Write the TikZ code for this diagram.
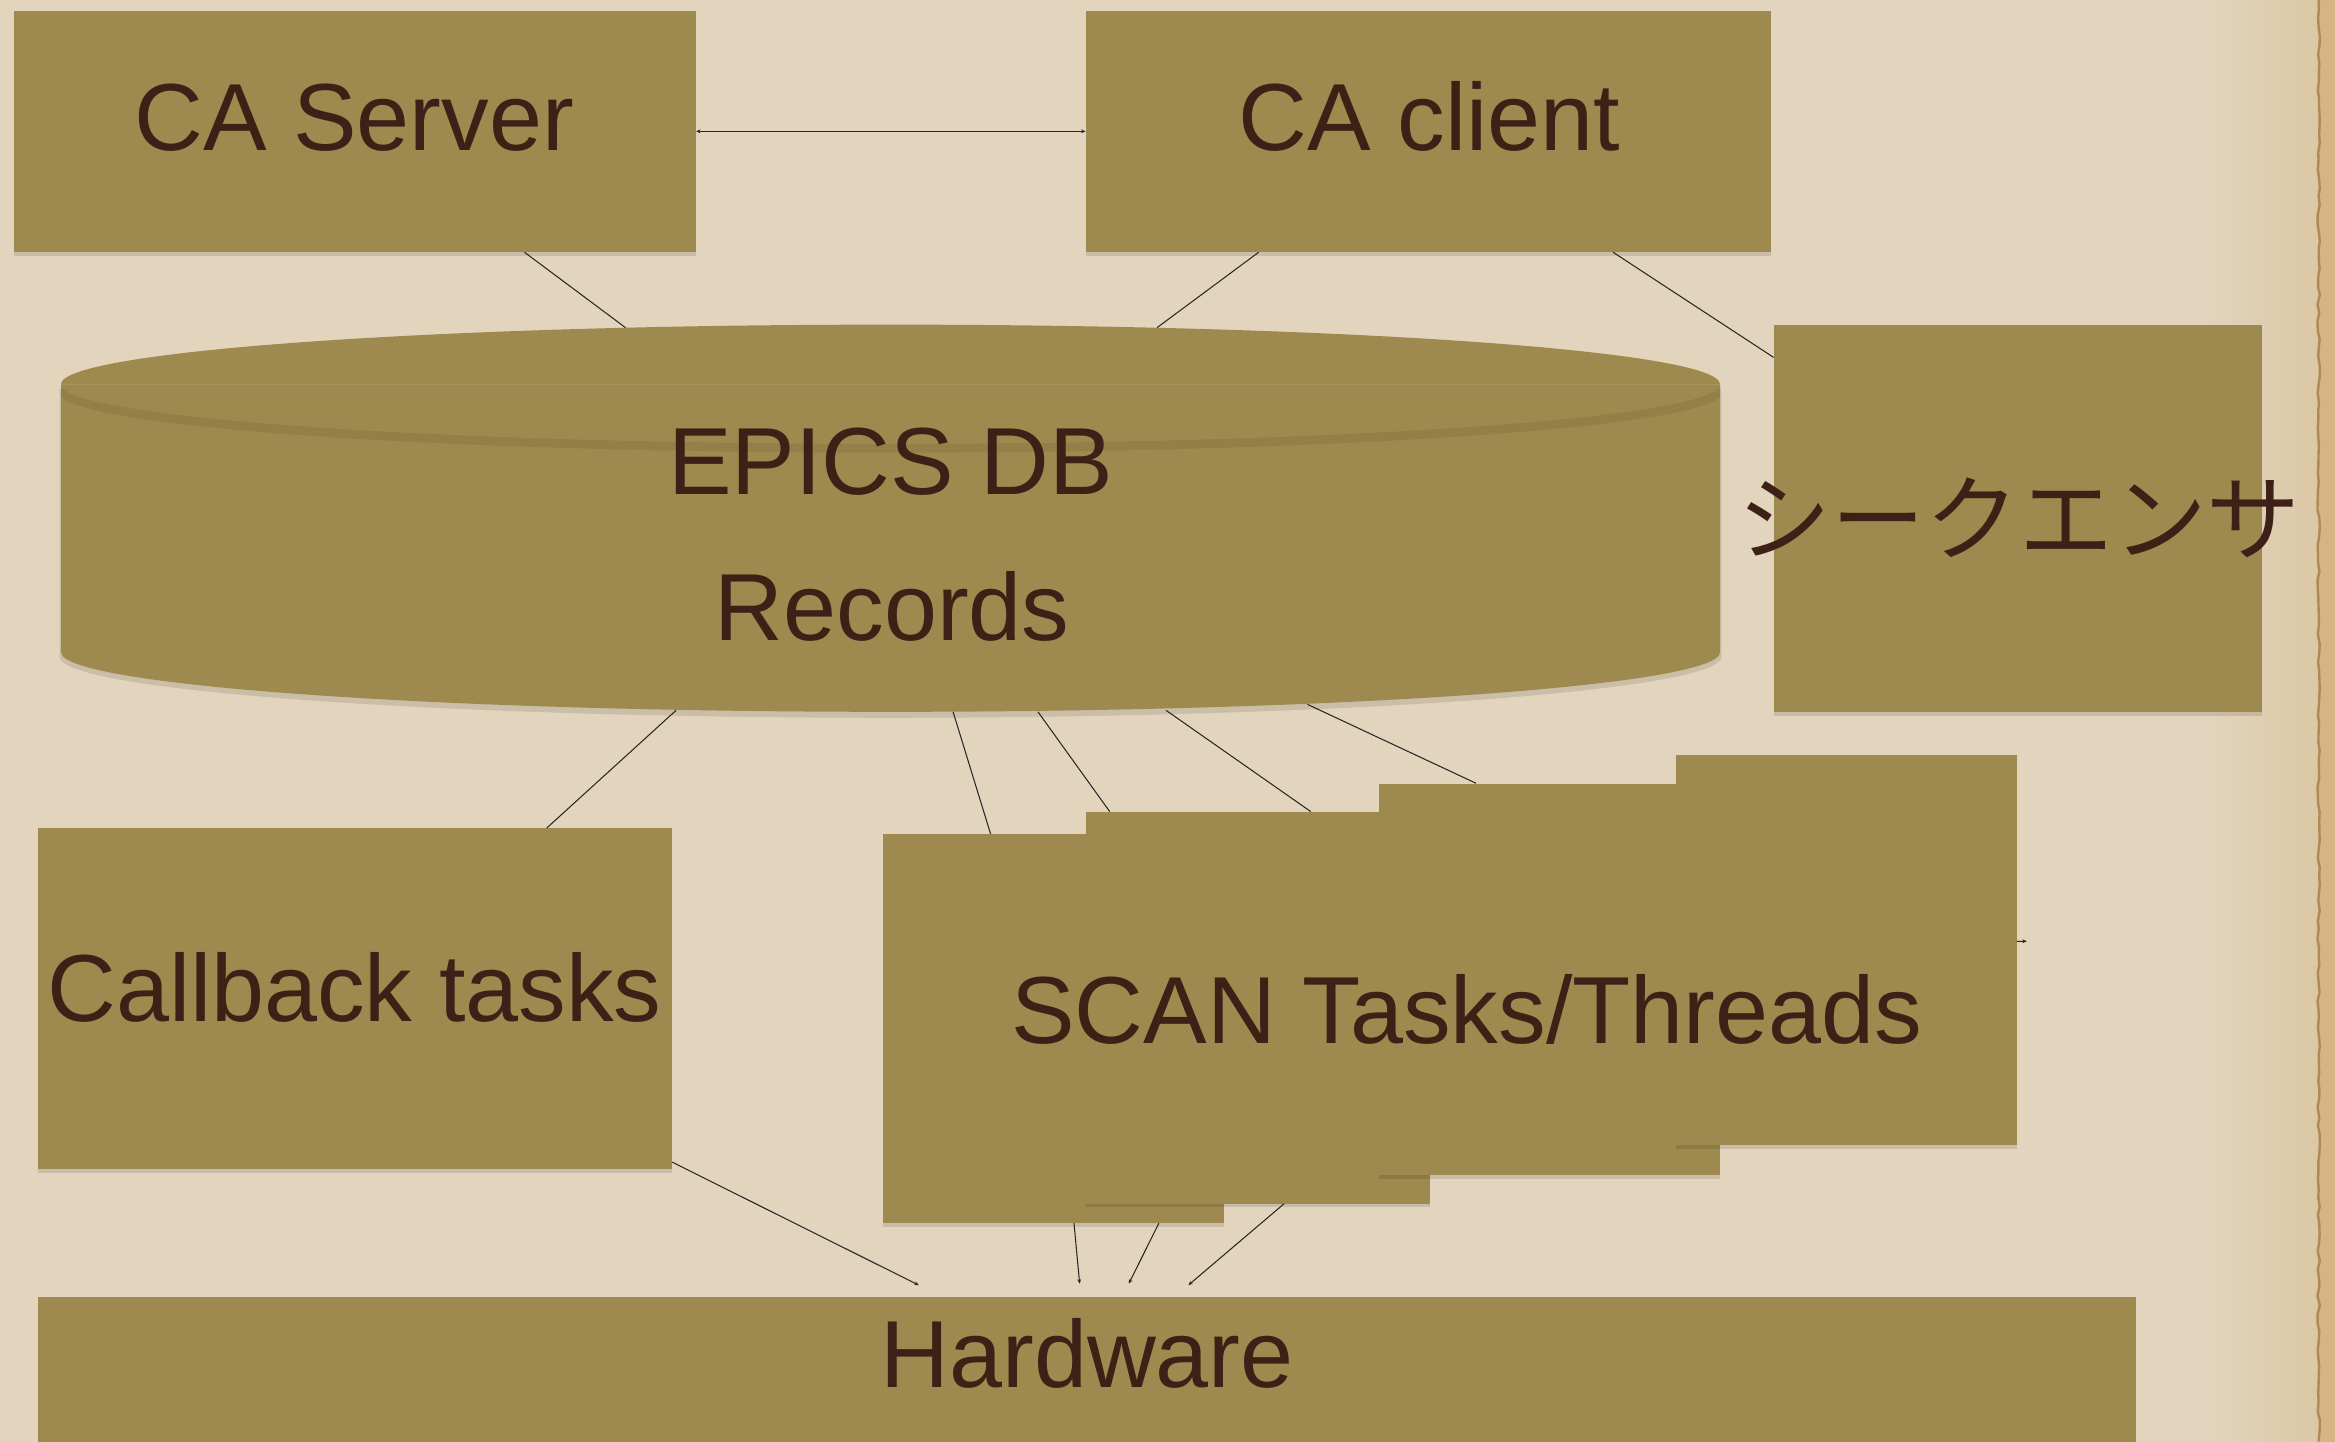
\documentclass[tikz,border=0pt]{standalone}
\usepackage{fontspec}
\setmainfont{Liberation Sans}
\newfontfamily\jpfont{Noto Sans CJK JP}
\usetikzlibrary{arrows.meta,shadows,decorations.pathmorphing}
\definecolor{paper}{HTML}{E2D4BD}
\definecolor{paperdark}{HTML}{DCC8A6}
\definecolor{boxfill}{HTML}{9E8A4E}
\definecolor{ink}{HTML}{3D2117}
\definecolor{edgetan}{HTML}{D5B583}
\definecolor{edgeline}{HTML}{B08A52}
\begin{document}
\begin{tikzpicture}[x=1pt,y=-1pt,
  box/.style={fill=boxfill, draw=none, inner sep=0pt, anchor=north west,
    drop shadow={shadow xshift=0pt, shadow yshift=-2.5pt, opacity=0.11, fill=black}},
  lbl/.style={text=ink, font=\fontsize{64}{70}\selectfont, inner sep=0pt, anchor=base},
  conn/.style={draw=black!85, line width=0.7pt},
  tipend/.style={-{Stealth[length=3pt,width=2.5pt]}},
  tipboth/.style={{Stealth[length=3pt,width=2.5pt]}-{Stealth[length=3pt,width=2.5pt]}}]

\useasboundingbox (0,0) rectangle (1568,968);
\fill[paper] (0,0) rectangle (1568,968);
\shade[left color=paper, right color=paperdark] (1480,0) rectangle (1557,968);
\fill[edgetan] (1557,0) rectangle (1568,968);
\pgfmathsetseed{7}
\draw[edgeline, line width=1.6pt, decorate, decoration={random steps, segment length=6pt, amplitude=0.8pt}] (1557,0) -- (1557,968);

% ---------- named points on the cylinder ----------
\coordinate (dbA) at (420,220);
\coordinate (dbB) at (777,220);
\coordinate (dbC) at (454,477);
\coordinate (dbD) at (640,478);
\coordinate (dbE) at (697,478);
\coordinate (dbF) at (783,477);
\coordinate (dbG) at (878,473);
% free ends above the hardware box
\coordinate (hw1) at (617,863);
\coordinate (hw2) at (725,862);
\coordinate (hw3) at (758,862);
\coordinate (hw4) at (798,863);
\coordinate (stub) at (1361,632);

% ---------- boxes (top row) ----------
\node[box, minimum width=458pt, minimum height=162pt] (srv) at (9,7) {};
\node[box, minimum width=460pt, minimum height=162pt] (cli) at (729,7) {};
\node[box, minimum width=328pt, minimum height=260pt] (seq) at (1191,218) {};

% ---------- cylinder ----------
\fill[black, opacity=0.10] (40,261) -- (40,441) arc[start angle=180, end angle=360, x radius=558pt, y radius=41pt] -- (1156,261) -- cycle;
\fill[boxfill] (41,258) -- (41,438) arc[start angle=180, end angle=360, x radius=557pt, y radius=40pt] -- (1155,258) -- cycle;
\begin{scope}
  \clip (41,258) -- (41,438) arc[start angle=180, end angle=360, x radius=557pt, y radius=40pt] -- (1155,258) -- cycle;
  \draw[black, opacity=0.07, line width=6pt] (41,261) arc[start angle=180, end angle=360, x radius=557pt, y radius=40pt];
\end{scope}
\fill[boxfill] (598,258) ellipse[x radius=557pt, y radius=40pt];
\draw[white, opacity=0.10, line width=0.6pt] (41,258) -- (1155,258);

% ---------- lower boxes ----------
\node[box, minimum width=426pt, minimum height=229pt] (cb) at (25,556) {};
\node[box, minimum width=229pt, minimum height=261pt] (s1) at (593,560) {};
\node[box, minimum width=231pt, minimum height=263pt] (s2) at (729,545) {};
\node[box, minimum width=229pt, minimum height=263pt] (s3) at (926,526) {};
\node[box, minimum width=229pt, minimum height=262pt] (s4) at (1125,507) {};
\node[box, minimum width=1409pt, minimum height=120pt] (hw) at (25,871) {};

% ---------- connectors ----------
\draw[conn, tipboth] (srv.east) -- (cli.west);
\draw[conn] ([xshift=114pt]srv.south) -- (dbA);
\draw[conn] ([xshift=-114pt]cli.south) -- (dbB);
\draw[conn] ([xshift=124pt]cli.south) -- ([yshift=-22pt]seq.north west);
\draw[conn] (dbC) -- ([xshift=129pt]cb.north);
\draw[conn] (dbD) -- ([xshift=-42.5pt]s1.north);
\draw[conn] (dbE) -- ([xshift=-99.5pt]s2.north);
\draw[conn] (dbF) -- ([xshift=35.5pt]s2.north);
\draw[conn] (dbG) -- ([xshift=-49.5pt]s3.north);
\draw[conn, tipend] ([yshift=5pt]cb.south east) -- (hw1);
\draw[conn, tipend] ([xshift=13.5pt]s1.south) -- (hw2);
\draw[conn, tipend] ([xshift=70.5pt]s1.south) -- (hw3);
\draw[conn, tipend] ([xshift=17.5pt]s2.south) -- (hw4);
\draw[conn, tipend] ([yshift=6pt]s4.east) -- (stub);

% ---------- labels ----------
\node[lbl] (srvT) at (238,101) {CA Server};
\node[lbl] (cliT) at (960,101) {CA client};
\node[lbl, font=\jpfont\fontsize{63}{70}\selectfont] (seqT) at (1356,372) {シークエンサ};
\node[lbl] (dbT1) at (598,332) {EPICS DB};
\node[lbl] (dbT2) at (599,430) {Records};
\node[lbl] (cbT) at (238,686) {Callback tasks};
\node[lbl] (scT) at (985,701) {SCAN Tasks/Threads};
\node[lbl] (hwT) at (730,932) {Hardware};
\end{tikzpicture}
\end{document}
